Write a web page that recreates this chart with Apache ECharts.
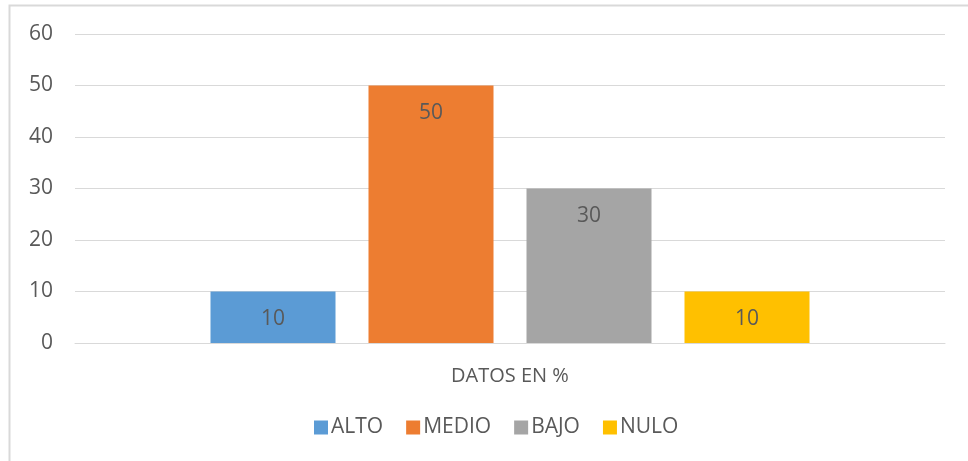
<!DOCTYPE html>
<html>
<head>
<meta charset="utf-8">
<script src="https://cdn.jsdelivr.net/npm/echarts@6/dist/echarts.min.js"></script>
<style>
  html, body { margin: 0; padding: 0; background: #fff; }
  #main { width: 968px; height: 461px; }
</style>
</head>
<body>
<div id="main"></div>
<script>
// category and series
const categories = ['DATOS EN %'];
const seriesNames = ['ALTO', 'MEDIO', 'BAJO', 'NULO'];
const seriesValues = [[10], [50], [30], [10]];
const seriesColors = ['#5b9bd5', '#ed7d31', '#a5a5a5', '#ffc000'];

const textColor = '#595959';
const font = 'Open Sans';

var chartDom = document.getElementById('main');
var myChart = echarts.init(chartDom);

let series = seriesNames.map((name, i) => {
    return {
        name: name,
        type: 'bar',
        data: seriesValues[i],
        barWidth: 125,
        barGap: '26.4%',
        itemStyle: { color: seriesColors[i] },
        label: {
            show: true,
            position: 'insideTop',
            distance: 17,
            color: textColor,
            fontFamily: font,
            fontSize: 21
        }
    }
})

let option = {
    animation: false,
    textStyle: { fontFamily: font },
    graphic: [{
        type: 'rect',
        shape: { x: 9.5, y: 5.5, width: 1000, height: 500 },
        style: { fill: 'none', stroke: '#d9d9d9', lineWidth: 2 }
    }],
    grid: { left: 75, right: 23, top: 34, bottom: 118 },
    legend: {
        left: 314,
        top: 417,
        padding: 0,
        itemWidth: 14,
        itemHeight: 14,
        itemGap: 23,
        icon: 'rect',
        textStyle: { color: textColor, fontSize: 21, fontFamily: font, padding: [0, 0, 0, -2] },
        data: seriesNames
    },
    xAxis: {
        type: 'category',
        data: categories,
        axisLine: { lineStyle: { color: '#d9d9d9', width: 1 } },
        axisTick: { show: false },
        axisLabel: { color: textColor, fontSize: 20, fontFamily: font, margin: 23 }
    },
    yAxis: {
        type: 'value',
        min: 0,
        max: 60,
        interval: 10,
        axisLine: { show: false },
        axisTick: { show: false },
        splitLine: { lineStyle: { color: '#d9d9d9', width: 1 } },
        axisLabel: { color: textColor, fontSize: 21, fontFamily: font, margin: 22 }
    },
    series: series
};

myChart.setOption(option);
</script>
</body>
</html>
